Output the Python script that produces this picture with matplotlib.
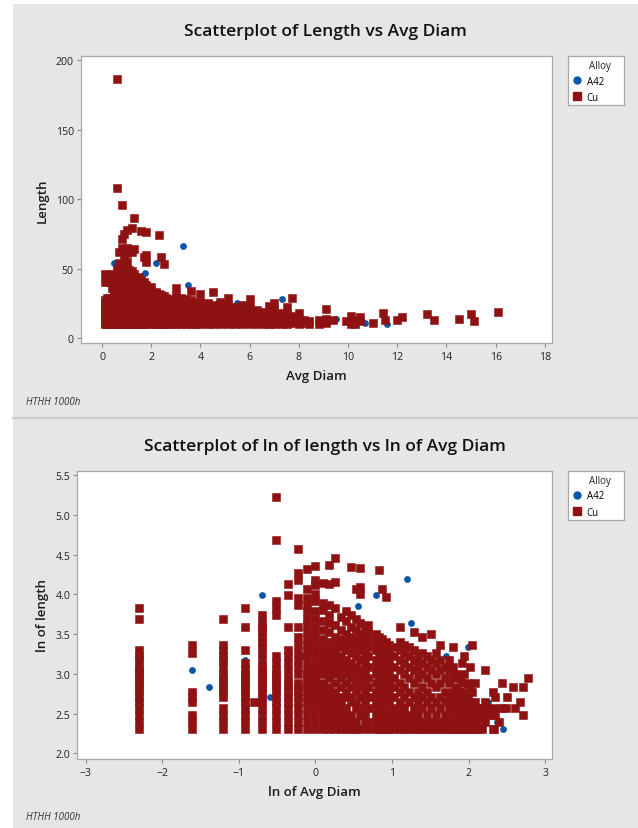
import numpy as np
import matplotlib
matplotlib.use("Agg")
import matplotlib.pyplot as plt
from matplotlib.patches import Rectangle
from matplotlib.lines import Line2D

plt.rcParams['font.family'] = ['Open Sans', 'DejaVu Sans']

# A42 alloy: avg diameter and length
a42_diam = [0.2, 0.2, 0.2, 0.25, 0.4, 0.4, 0.5, 0.55, 0.85, 1.0, 1.3, 1.4, 1.75,
            2.0, 2.2, 3.3, 3.4, 3.5, 5.5, 5.8, 6.6, 7.3, 9.5, 10.7, 11.6]
a42_len = [21, 16, 12, 17, 24, 10, 54, 15, 25, 54, 25, 10, 47,
           35, 54, 66, 10, 38, 25, 21, 14, 28, 14, 11, 10]

# Cu alloy: one entry per avg diameter, with the lengths measured at it
cu_diam = [0.1, 0.2, 0.3, 0.4, 0.45, 0.5, 0.6, 0.7, 0.8, 0.9,
           1.0, 1.1, 1.2, 1.3, 1.4, 1.5, 1.6, 1.7, 1.8, 1.9, 2.0,
           2.2, 2.3, 2.4, 2.5, 2.6, 2.8, 3.0, 3.2, 3.4, 3.6, 3.8, 4.0,
           4.3, 4.5, 4.8, 5.1, 5.4, 5.7, 6.0, 6.3, 6.6, 6.8, 7.0, 7.3,
           7.5, 7.7, 8.0, 8.2, 8.4, 8.8, 9.1, 9.4, 9.9, 10.1, 10.3, 10.5,
           11.0, 11.4, 11.5, 12.0, 12.2, 13.2, 13.5, 14.5, 15.0, 15.1, 16.1]
cu_lengths = [
    [10, 11, 12, 13, 14, 15, 16, 17, 18, 19, 20, 21, 22, 24, 25, 27, 40, 46],
    [10, 11, 12, 14, 15, 16, 26, 29],
    [10, 11, 12, 13, 15, 16, 17, 18, 19, 20, 22, 24, 25, 27, 29, 40],
    [10, 11, 12, 13, 14, 15, 16, 17, 18, 19, 20, 21, 23, 27, 36, 46],
    [14],
    [10, 11, 12, 13, 14, 15, 16, 17, 18, 19, 20, 21, 22, 24, 26, 28, 30, 32, 34, 36, 38, 42],
    [10, 11, 12, 13, 14, 15, 16, 17, 18, 19, 20, 21, 23, 25, 42, 46, 50, 108, 186],
    [10, 11, 12, 13, 14, 15, 16, 17, 18, 19, 21, 23, 25, 27, 36, 54, 62],
    [10, 11, 12, 13, 14, 15, 16, 17, 18, 20, 22, 24, 26, 29, 32, 36, 48, 52, 65, 71, 96],
    [10, 11, 12, 13, 14, 15, 16, 17, 18, 19, 20, 21, 23, 25, 27, 29, 31, 34, 37, 40, 44, 48, 52, 58, 75],
    [10, 11, 12, 13, 14, 15, 16, 17, 18, 19, 20, 21, 22, 23, 25, 27, 29, 31, 33, 36, 40, 44, 50, 55, 61, 65, 78],
    [10, 11, 12, 13, 14, 15, 16, 17, 18, 20, 22, 24, 26, 28, 31, 35, 39, 45, 49, 63],
    [10, 11, 12, 13, 14, 15, 16, 17, 19, 21, 23, 25, 27, 30, 34, 38, 42, 48, 62, 79],
    [10, 11, 12, 13, 14, 15, 16, 18, 20, 22, 24, 26, 29, 32, 37, 46, 64, 86],
    [10, 11, 12, 13, 14, 15, 17, 19, 21, 23, 25, 28, 31, 35, 41],
    [10, 11, 12, 13, 15, 16, 18, 20, 22, 24, 27, 30, 33, 39, 44],
    [10, 11, 12, 14, 15, 17, 19, 21, 23, 26, 29, 32, 36, 42, 77],
    [10, 11, 13, 14, 16, 18, 20, 22, 25, 28, 31, 35, 40, 58],
    [10, 12, 13, 15, 17, 19, 21, 24, 27, 30, 33, 38, 55, 60, 76],
    [11, 12, 14, 16, 18, 20, 23, 26, 29, 32, 35],
    [10, 11, 13, 15, 17, 19, 22, 25, 28, 31, 34, 37],
    [10, 11, 12, 13, 14, 15, 16, 18, 20, 22, 24, 27, 30, 33],
    [10, 11, 12, 13, 14, 15, 17, 19, 21, 23, 26, 29, 32, 74],
    [10, 11, 12, 13, 14, 16, 18, 20, 22, 25, 28, 31, 58],
    [10, 11, 12, 13, 15, 17, 19, 21, 24, 27, 30, 53],
    [10, 11, 12, 14, 16, 18, 20, 23, 26, 29],
    [10, 11, 12, 13, 15, 17, 19, 22, 25, 28],
    [10, 11, 12, 13, 14, 16, 18, 21, 24, 27, 30, 36],
    [10, 11, 12, 13, 15, 17, 20, 23, 26, 29],
    [10, 11, 12, 14, 16, 19, 22, 25, 28],
    [10, 11, 12, 13, 15, 18, 21, 24, 27, 34],
    [10, 11, 12, 14, 16, 19, 22, 25],
    [10, 11, 13, 15, 17, 20, 23, 26, 32],
    [10, 11, 12, 14, 16, 19, 22, 25],
    [10, 11, 13, 15, 18, 21, 24, 33],
    [10, 11, 12, 14, 17, 20, 23, 26],
    [10, 11, 13, 15, 18, 21, 24, 29],
    [10, 11, 12, 14, 16, 19, 22],
    [10, 11, 13, 15, 18, 21, 24],
    [10, 11, 12, 14, 16, 19, 22, 28],
    [10, 11, 13, 15, 17, 20],
    [10, 11, 12, 14, 16, 19],
    [10, 11, 13, 15, 18, 23],
    [10, 11, 12, 14, 16, 20, 25],
    [10, 11, 13, 15, 18],
    [10, 12, 14, 17, 22],
    [11, 13, 16, 29],
    [10, 12, 14, 18],
    [11, 13],
    [10, 12],
    [10, 13],
    [11, 12, 14, 21],
    [13],
    [12],
    [10, 16],
    [10, 13],
    [12, 15],
    [11],
    [18],
    [13],
    [13],
    [15],
    [17],
    [13],
    [14],
    [17],
    [12],
    [19],
]

cu_x = np.repeat(cu_diam, [len(v) for v in cu_lengths])
cu_y = np.concatenate([np.array(v, dtype=float) for v in cu_lengths])
a42_x = np.array(a42_diam)
a42_y = np.array(a42_len, dtype=float)

BLUE = '#0b56a6'
RED = '#8e1212'
GRAY = '#e6e6e6'
W, H = 638, 829

fig = plt.figure(figsize=(W / 100, H / 100), dpi=100)
fig.patch.set_facecolor('white')

# grey panels behind each graph
fig.patches.append(Rectangle((13 / W, 1 - 418 / H), 1, 413 / H, transform=fig.transFigure,
                             facecolor=GRAY, edgecolor='none', zorder=-10))
fig.patches.append(Rectangle((13 / W, 0), 1, 1 - 420 / H, transform=fig.transFigure,
                             facecolor=GRAY, edgecolor='none', zorder=-10))
fig.add_artist(Line2D([13 / W, 1], [1 - 418.8 / H] * 2, color='#cccccc', lw=1.6, zorder=-9))


def style_axes(ax):
    for s in ax.spines.values():
        s.set_color('#a8a8a8')
        s.set_linewidth(0.9)
    ax.tick_params(direction='out', length=3, width=0.8, color='#888888',
                   labelsize=7.6, labelcolor='#222222', pad=2)
    ax.tick_params(axis='x', pad=3)
    ax.set_facecolor('white')


def draw_legend(rect):
    lax = fig.add_axes(rect)
    lax.set_xticks([])
    lax.set_yticks([])
    for s in lax.spines.values():
        s.set_color('#a8a8a8')
        s.set_linewidth(0.9)
    lax.text(0.38, 0.80, 'Alloy', fontsize=7, color='#222222', va='center', ha='left',
             transform=lax.transAxes)
    handles = [Line2D([], [], marker='o', color=BLUE, ls='none', markersize=5),
               Line2D([], [], marker='s', color=RED, ls='none', markersize=5.5)]
    lax.legend(handles, ['A42', 'Cu'], loc='upper left', bbox_to_anchor=(-0.06, 0.74),
               frameon=False, fontsize=7, handlelength=1.2, handletextpad=0.35,
               labelspacing=0.55, borderpad=0.2)


def draw_points(ax, ax_x, ax_y, cx, cy):
    ax.scatter(ax_x, ax_y, s=24, marker='o', color=BLUE, linewidths=0, zorder=2)
    ax.scatter(cx, cy, s=28, marker='s', facecolor=RED, edgecolor=RED,
               linewidths=0.4, zorder=3)


# ---- top graph: Length vs Avg Diam
ax1 = fig.add_axes([80.7 / W, 1 - 344 / H, (552 - 80.7) / W, (344 - 57) / H])
style_axes(ax1)
draw_points(ax1, a42_x, a42_y, cu_x, cu_y)
ax1.set_xlim(-0.87, 18.29)
ax1.set_ylim(-3.6, 202.9)
ax1.set_xticks(np.arange(0, 19, 2))
ax1.set_yticks(np.arange(0, 201, 50))
ax1.set_xlabel('Avg Diam', fontsize=9.5, color='#1a1a1a', labelpad=5, fontweight='semibold')
ax1.set_ylabel('Length', fontsize=9.5, color='#1a1a1a', labelpad=5, fontweight='semibold')
fig.text(325 / W, 1 - 32 / H, 'Scatterplot of Length vs Avg Diam', ha='center', va='center',
         fontsize=12.5, color='#111111', fontweight='semibold')
fig.text(26 / W, 1 - 403 / H, 'HTHH 1000h', fontsize=7, style='italic', color='#333333',
         va='center')
draw_legend([568 / W, 1 - 106 / H, 56 / W, 49 / H])

# ---- bottom graph: logs of both
ax2 = fig.add_axes([77.4 / W, 1 - 760 / H, (552 - 77.4) / W, (760 - 471.7) / H])
style_axes(ax2)
draw_points(ax2, np.log(a42_x), np.log(a42_y), np.log(cu_x), np.log(cu_y))
ax2.set_xlim(-3.107, 3.089)
ax2.set_ylim(1.928, 5.555)
ax2.set_xticks(np.arange(-3, 4, 1))
ax2.set_yticks(np.arange(2.0, 5.6, 0.5))
ax2.set_yticklabels([f'{v:.1f}' for v in np.arange(2.0, 5.6, 0.5)])
ax2.set_xlabel('ln of Avg Diam', fontsize=9.5, color='#1a1a1a', labelpad=5, fontweight='semibold')
ax2.set_ylabel('ln of length', fontsize=9.5, color='#1a1a1a', labelpad=5, fontweight='semibold')
fig.text(325 / W, 1 - 446.7 / H, 'Scatterplot of ln of length vs ln of Avg Diam', ha='center',
         va='center', fontsize=12.5, color='#111111', fontweight='semibold')
fig.text(26 / W, 1 - 818 / H, 'HTHH 1000h', fontsize=7, style='italic', color='#333333',
         va='center')
draw_legend([568 / W, 1 - 521 / H, 56 / W, 49.3 / H])

fig.savefig('out.png', dpi=100)
